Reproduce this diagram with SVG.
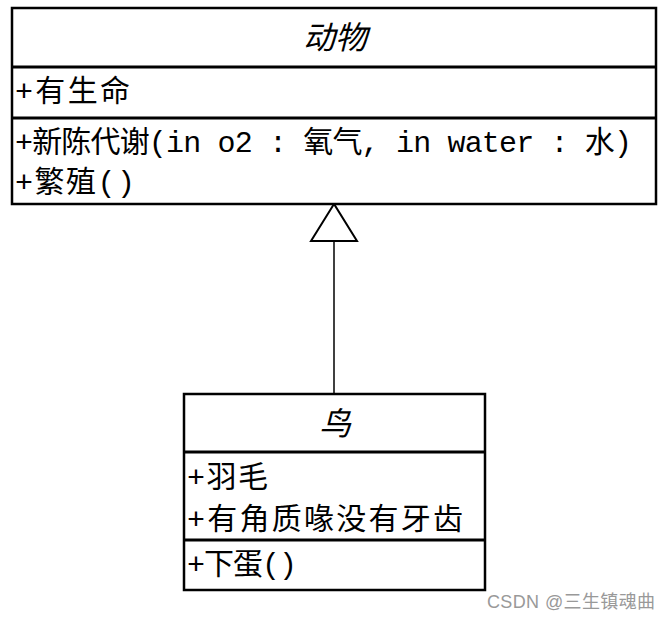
<svg xmlns="http://www.w3.org/2000/svg" width="670" height="621" viewBox="0 0 670 621">
<style>
.box{fill:#fff;stroke:#000;stroke-width:2.5}
.div{stroke:#000;stroke-width:3}
.t{font-family:"Liberation Mono","Noto Sans CJK SC",monospace;font-size:30px;fill:#000}
.title{font-family:"Noto Sans CJK SC",sans-serif;font-size:32px;font-style:italic;fill:#000;text-anchor:middle}
.wm{font-family:"Liberation Sans","Noto Sans CJK SC",sans-serif;font-size:18px;fill:#999}
.conn{stroke:#000;stroke-width:1.5;fill:none}
</style>
<g id="connectors">
<line class="conn" x1="334" y1="241" x2="334" y2="394"/>
<polygon points="334,204 311,241 357,241" fill="#fff" stroke="#000" stroke-width="2"/>
</g>
<g id="animal">
<rect class="box" x="12" y="8" width="644" height="196"/>
<line class="div" x1="12" y1="67" x2="656" y2="67"/>
<line class="div" x1="12" y1="118" x2="656" y2="118"/>
<text class="title" x="335" y="49">动物</text>
<text class="t" x="15" y="101" textLength="115" lengthAdjust="spacing">+有生命</text>
<text class="t" x="15" y="152" textLength="617" lengthAdjust="spacing">+新陈代谢(in o2 : 氧气, in water : 水)</text>
<text class="t" x="15" y="192" textLength="120" lengthAdjust="spacing">+繁殖()</text>
</g>
<g id="bird">
<rect class="box" x="184" y="394" width="301" height="196"/>
<line class="div" x1="184" y1="452" x2="485" y2="452"/>
<line class="div" x1="184" y1="540" x2="485" y2="540"/>
<text class="title" x="335" y="435">鸟</text>
<text class="t" x="187" y="487" textLength="81" lengthAdjust="spacing">+羽毛</text>
<text class="t" x="187" y="529" textLength="276" lengthAdjust="spacing">+有角质喙没有牙齿</text>
<text class="t" x="187" y="574" textLength="110" lengthAdjust="spacing">+下蛋()</text>
</g>
<text class="wm" x="487" y="608" textLength="168" lengthAdjust="spacing">CSDN @三生镇魂曲</text>
</svg>
